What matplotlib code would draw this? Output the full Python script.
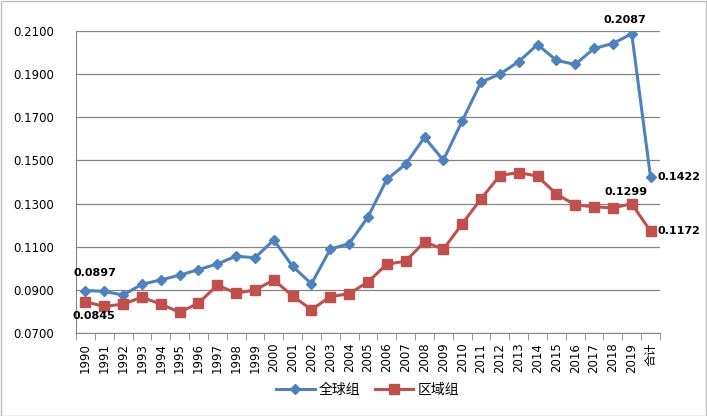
import matplotlib
matplotlib.use("Agg")
import matplotlib.pyplot as plt

plt.rcParams['font.family'] = ['DejaVu Sans', 'Noto Sans CJK SC']

categories = [str(y) for y in range(1990, 2020)] + ['合计']
global_vals = [0.0897, 0.0893, 0.0876, 0.0926, 0.0946, 0.0968, 0.0994, 0.1020, 0.1056, 0.1049,
               0.1131, 0.1009, 0.0928, 0.1089, 0.1114, 0.1238, 0.1412, 0.1483, 0.1607, 0.1501,
               0.1683, 0.1863, 0.1900, 0.1958, 0.2037, 0.1964, 0.1945, 0.2019, 0.2042, 0.2087,
               0.1422]
region_vals = [0.0845, 0.0823, 0.0834, 0.0866, 0.0834, 0.0796, 0.0838, 0.0922, 0.0885, 0.0899,
               0.0946, 0.0872, 0.0808, 0.0869, 0.0882, 0.0937, 0.1019, 0.1033, 0.1123, 0.1088,
               0.1206, 0.1322, 0.1430, 0.1444, 0.1427, 0.1344, 0.1294, 0.1285, 0.1280, 0.1299,
               0.1172]
series_names = ['全球组', '区域组']
yticks = [0.07, 0.09, 0.11, 0.13, 0.15, 0.17, 0.19, 0.21]

blue = '#4F81BD'
red = '#C0504D'

fig = plt.figure(figsize=(7.07, 4.16), dpi=100)
fig.patch.set_facecolor('white')
fig.add_artist(plt.Rectangle((0.001, 0.001), 0.997, 0.997, transform=fig.transFigure,
                             fill=False, edgecolor='#BFBFBF', linewidth=1))
ax = fig.add_axes([0.1075, 0.1995, 0.826, 0.726])

x = list(range(len(categories)))
ax.plot(x, global_vals, color=blue, linewidth=2.2, marker='D', markersize=5.5,
        markerfacecolor=blue, markeredgecolor=blue, label=series_names[0], zorder=3)
ax.plot(x, region_vals, color=red, linewidth=2.2, marker='s', markersize=7,
        markerfacecolor=red, markeredgecolor=red, label=series_names[1], zorder=3)

ax.set_xlim(-0.5, len(categories) - 0.5)
ax.set_ylim(0.07, 0.21)
ax.set_yticks(yticks)
ax.set_yticklabels([f'{v:.4f}' for v in yticks], fontsize=8.5)
ax.yaxis.grid(True, color='#868686', linewidth=0.9)
ax.set_axisbelow(True)
ax.tick_params(axis='y', length=0, pad=16)

ax.set_xticks(x)
ax.set_xticklabels(categories, rotation=90, fontsize=8.5,
                   fontfamily=['DejaVu Sans', 'Noto Sans CJK SC'])
ax.tick_params(axis='x', length=0, pad=7)
ax.set_xticks([i - 0.5 for i in range(len(categories) + 1)], minor=True)
ax.tick_params(axis='x', which='minor', length=5, color='#868686', direction='out')

for s in ['top', 'right']:
    ax.spines[s].set_visible(False)
ax.spines['left'].set_color('#868686')
ax.spines['bottom'].set_color('#868686')

fs = 8
ax.annotate(f'{global_vals[0]:.4f}', (x[0], global_vals[0]), xytext=(7, 9),
            textcoords='offset points', ha='center', va='bottom', fontsize=fs, fontweight='bold')
ax.annotate(f'{region_vals[0]:.4f}', (x[0], region_vals[0]), xytext=(6, -7),
            textcoords='offset points', ha='center', va='top', fontsize=fs, fontweight='bold')
ax.annotate(f'{global_vals[29]:.4f}', (x[29], global_vals[29]), xytext=(-5, 6),
            textcoords='offset points', ha='center', va='bottom', fontsize=fs, fontweight='bold')
ax.annotate(f'{region_vals[29]:.4f}', (x[29], region_vals[29]), xytext=(-4, 5),
            textcoords='offset points', ha='center', va='bottom', fontsize=fs, fontweight='bold')
ax.annotate(f'{global_vals[30]:.4f}', (x[30], global_vals[30]), xytext=(5, 0),
            textcoords='offset points', ha='left', va='center', fontsize=fs, fontweight='bold')
ax.annotate(f'{region_vals[30]:.4f}', (x[30], region_vals[30]), xytext=(5, 0),
            textcoords='offset points', ha='left', va='center', fontsize=fs, fontweight='bold')

leg = fig.legend(loc='center', bbox_to_anchor=(0.52, 0.063), ncol=2, frameon=False,
                 prop={'family': ['Noto Sans CJK SC', 'DejaVu Sans'], 'size': 10},
                 handlelength=2.8, columnspacing=1.0, handletextpad=0.3)

fig.savefig('out.png', dpi=100, facecolor='white')
